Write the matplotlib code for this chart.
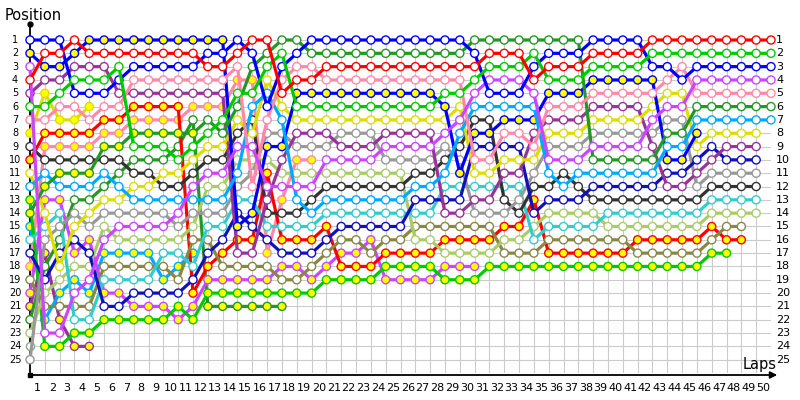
import matplotlib
matplotlib.use('Agg')
import matplotlib.pyplot as plt
from matplotlib.lines import Line2D

# lap-by-lap running position of every car, index 0 = grid
bw = [1, 1, 1, 5, 5, 5, 4, 3, 3, 3, 3, 3, 2, 2, 1, 2, 6, 3, 2, 1, 1, 1, 1, 1, 1, 1, 1, 1, 1, 1,
      2, 5, 5, 5, 3, 2, 2, 2, 1, 1, 1, 1, 3, 3, 4, 3, 3, 3, 3, 3, 3]
by = [2, 3, 3, 2, 1, 1, 1, 1, 1, 1, 1, 1, 1, 1, 15, 14, 9, 9, 5, 5, 5, 5, 5, 5, 5, 5, 5, 5, 6, 11,
      8, 8, 7, 7, 7, 5, 5, 5, 4, 4, 4, 4, 4, 10, 10, 8]
rw = [4, 2, 2, 1, 2, 2, 2, 2, 2, 2, 2, 2, 3, 3, 2, 1, 1, 5, 4, 4, 3, 3, 3, 3, 3, 3, 3, 3, 3, 3,
      3, 2, 2, 2, 4, 3, 3, 3, 2, 2, 2, 2, 1, 1, 1, 1, 1, 1, 1, 1, 1]
ry = [10, 8, 8, 8, 8, 7, 7, 6, 6, 6, 6, 20, 18, 17, 16, 16, 11, 16, 16, 16, 15, 18, 18, 18, 17,
      17, 17, 17, 16, 16, 16, 16, 15, 15, 13, 17, 17, 17, 17, 17, 17, 16, 16, 16, 16, 16, 15, 16, 16]
gw = [6, 6, 5, 4, 4, 4, 3, 9, 9, 9, 10, 9, 8, 7, 5, 5, 3, 2, 6, 6, 6, 6, 6, 6, 6, 6, 6, 6, 5, 5,
      4, 3, 3, 3, 2, 4, 4, 4, 3, 3, 3, 3, 2, 2, 2, 2, 2, 2, 2, 2, 2]
gy = [13, 24, 24, 23, 23, 22, 22, 22, 22, 22, 21, 22, 20, 20, 20, 20, 20, 20, 20, 20, 19, 19, 19,
      19, 18, 18, 18, 18, 19, 19, 19, 18, 18, 18, 18, 18, 18, 18, 18, 18, 18, 18, 18, 18, 18, 18, 17, 17]
dga = [14, 12, 11, 11, 11, 9, 9, 8, 8, 8, 8, 8, 7, 8, 6, 3, 2, 1, 1, 2, 2, 2, 2, 2, 2, 2, 2, 2, 2,
       2, 1, 1, 1, 1, 1, 1, 1, 1, 10, 10, 10, 10, 10, 8, 8, 6, 6, 6, 6, 6, 6]
dgb = [22, 18, 16, 13, 13, 12, 11, 10, 10, 10, 9, 7, 21, 21, 21, 21, 21, 21]
pw = [7, 7, 6, 6, 7, 6, 6, 4, 4, 4, 4, 4, 4, 4, 3, 12, 7, 4, 3, 3, 4, 4, 4, 4, 4, 4, 4, 4, 4, 4,
      10, 10, 8, 8, 9, 6, 6, 6, 5, 5, 5, 5, 5, 4, 3, 5, 5, 5, 5, 5, 5]
py = [18, 9, 9, 9, 9, 8, 8, 7, 7, 7, 7, 6, 6, 6, 4, 4, 17, 13, 10, 10]
puw = [5, 4, 4, 3, 3, 3, 5, 5, 5, 5, 5, 5, 5, 5, 17, 17, 13, 10, 8, 8, 8, 9, 9, 9, 8, 8, 8, 8, 14,
       14, 13, 13, 11, 11, 8, 7, 7, 7, 6, 6, 6, 6, 9, 12, 12, 11, 10, 9, 9, 9]
puy = [21, 17, 22, 24, 24]
vw = [3, 23, 23, 20, 19, 16, 15, 15, 15, 15, 14, 12, 11, 11, 9, 9, 12, 12, 12, 12, 10, 10, 10, 10,
      9, 9, 9, 9, 8, 7, 5, 4, 4, 4, 5, 10, 10, 10, 9, 9, 9, 9, 7, 6, 6, 4, 4, 4, 4, 4, 4]
vy = [20, 13, 13, 17, 16, 20, 20, 21, 21, 21, 22, 21, 19, 19, 19, 19, 19, 18, 18, 19, 18, 17, 17,
      16, 19, 19, 19, 19, 18, 18, 18]
yy = [8, 5, 7, 7, 6]
yw = [11, 14, 18, 15, 14, 13, 13, 12, 12, 11, 11, 10, 9, 9, 7, 8, 4, 6, 7, 7, 7, 7, 7, 7, 7, 7, 7,
      7, 7, 6, 11, 11, 10, 10, 10, 8, 8, 8, 7, 7, 7, 7, 6, 5, 5, 9, 8, 8, 8, 8]
lbw = [12, 11, 12, 12, 12, 11, 12, 13, 13, 13, 13, 13, 13, 13, 11, 6, 5, 7, 13, 14, 13, 13, 13, 13,
       13, 13, 12, 12, 11, 8, 6, 6, 6, 6, 6, 11, 12, 11, 11, 11, 11, 11, 11, 9, 9, 7, 7, 7, 7, 7, 7]
lby = [15, 22, 20, 19, 20, 17, 17, 17, 17, 19, 18, 17]
dkw = [9, 10, 10, 10, 10, 10, 10, 11, 11, 12, 12, 11, 10, 10, 8, 7, 14, 14, 14, 13, 12, 12, 12, 12,
       12, 12, 11, 11, 10, 9, 7, 7, 13, 14, 12, 12, 11, 12, 13, 13, 13, 13, 13, 13, 13, 13, 12, 12, 12, 12]
grw = [25, 16, 15, 14, 15, 14, 14, 14, 14, 14, 15, 14, 14, 14, 12, 11, 8, 8, 9, 9, 9, 8, 8, 8, 10,
       10, 10, 10, 9, 10, 14, 14, 14, 13, 11, 9, 9, 9, 8, 8, 8, 8, 8, 7, 7, 12, 11, 11, 11, 11]
lgw = [23, 20, 19, 18, 18, 15, 16, 16, 16, 16, 16, 15, 12, 12, 10, 10, 10, 11, 11, 11, 11, 11, 11,
       11, 11, 11, 16, 16, 17, 17, 17, 17, 16, 16, 15, 14, 14, 14, 14, 15, 15, 15, 15, 15, 15, 15,
       14, 14, 14, 14]
cyw = [16, 15, 14, 22, 22, 19, 19, 19, 19, 17, 17, 18, 15, 15, 13, 13, 15, 15, 15, 15, 14, 14, 14,
       14, 14, 14, 14, 14, 12, 12, 12, 12, 12, 12, 16, 15, 15, 15, 15, 14, 14, 14, 14, 14, 14, 14,
       13, 13, 13, 13]
nvw = [17, 19, 17, 16, 17, 21, 21, 20, 20, 20, 20, 19, 17, 16, 14, 15, 16, 17, 17, 17, 16, 15, 15,
       15, 15, 15, 13, 13, 13, 13, 9, 9, 9, 9, 14, 13, 13, 13, 12, 12, 12, 12, 12, 11, 11, 10, 9,
       10, 10, 10]
olw = [19, 21, 21, 21, 21, 18, 18, 18, 18, 18, 19, 16, 16, 18, 18, 18, 18, 19, 19, 18, 17, 16, 16,
       17, 16, 16, 15, 15, 15, 15, 15, 15, 17, 17, 17, 16, 16, 16, 16, 16, 16, 17, 17, 17, 17, 17,
       16, 15, 15]
xw = [24]

# (positions, line colour, laps drawn with a yellow marker: (first, last) or None)
cars = [
    (xw, '#8FA88F', None),
    (puy, '#993399', (0, 4)),
    (yy, '#DDDD00', (0, 4)),
    (lby, '#00AAFF', (0, 11)),
    (dgb, '#229922', (12, 17)),
    (py, '#FF88AA', (0, 19)),
    (vy, '#CC44FF', (0, 30)),
    (gy, '#00CC00', (0, 47)),
    (ry, '#FF0000', (0, 48)),
    (olw, '#888844', None),
    (lgw, '#AACC66', None),
    (cyw, '#33CCCC', None),
    (dkw, '#333333', None),
    (grw, '#999999', None),
    (nvw, '#1111BB', None),
    (puw, '#993399', None),
    (yw, '#DDDD00', None),
    (by, '#0000FF', (0, 45)),
    (lbw, '#00AAFF', None),
    (dga, '#229922', (0, 11)),
    (pw, '#FF88AA', None),
    (vw, '#CC44FF', None),
    (bw, '#0000FF', None),
    (gw, '#00CC00', None),
    (rw, '#FF0000', None),
]

fig = plt.figure(figsize=(8, 4), dpi=100)
ax = fig.add_axes([30 / 800, 27 / 400, 741 / 800, 333 / 400])
ax.set_xlim(0, 50)
ax.set_ylim(26, 1)
ax.set_xticks(range(0, 51))
ax.set_yticks(range(1, 27))
ax.grid(True, color='#CCCCCC', lw=0.8)
ax.tick_params(length=0, labelbottom=False, labelleft=False)
for s in ax.spines.values():
    s.set_visible(False)

z = 3
for pos, col, yel in cars:
    laps = list(range(len(pos)))
    faces = []
    for i in laps:
        if yel is not None and yel[0] <= i <= yel[1]:
            faces.append('#FFFF00')
        else:
            faces.append('white')
    ax.plot(laps, pos, color=col, lw=2.3, zorder=z, clip_on=False)
    ax.scatter(laps, pos, s=34, facecolors=faces, edgecolors=col, linewidths=1.0,
               zorder=z + 1, clip_on=False)
    z += 2

# lap numbers under the axis, position numbers on both sides
for lap in range(1, 51):
    ax.text(lap - 0.5, -0.045, str(lap), transform=ax.get_xaxis_transform(),
            ha='center', va='center', fontsize=8)
for p in range(1, 26):
    ax.text(-0.0202, p, str(p), transform=ax.get_yaxis_transform(),
            ha='center', va='center', fontsize=7)
    ax.text(1.0067, p, str(p), transform=ax.get_yaxis_transform(),
            ha='left', va='center', fontsize=8)

# axes with arrows
ax.annotate('', xy=(780, 25), xytext=(29, 25), xycoords='figure pixels',
            arrowprops=dict(arrowstyle='-|>', color='black', lw=1.3, mutation_scale=10))
ax.annotate('', xy=(30, 376), xytext=(30, 25), xycoords='figure pixels',
            arrowprops=dict(arrowstyle='-', color='black', lw=1.3))
fig.add_artist(Line2D([30 / 800], [376 / 400], marker='o', markersize=3.5,
                      color='black', transform=fig.transFigure))
fig.add_artist(Line2D([30 / 800], [25 / 400], marker='s', markersize=3,
                      color='black', transform=fig.transFigure))

fig.text(5 / 800, 385 / 400, 'Position', ha='left', va='center', fontsize=10.5)
fig.text(743 / 800, 36 / 400, 'Laps', ha='left', va='center', fontsize=10.5)

fig.savefig('out.png', dpi=100)
